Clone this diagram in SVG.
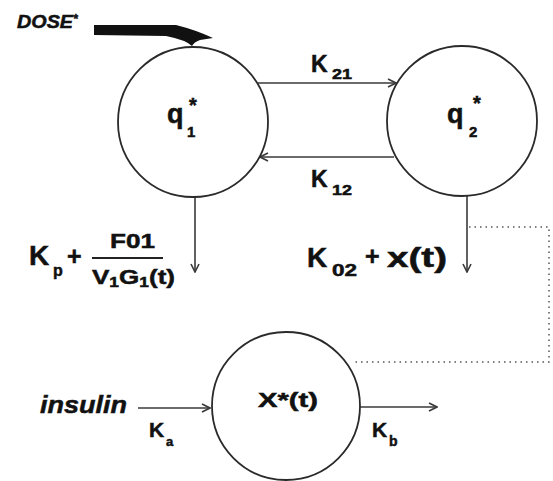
<svg xmlns="http://www.w3.org/2000/svg" width="553" height="481" viewBox="0 0 553 481">
<style>
.c{fill:#fff;stroke:#2a2a2a;stroke-width:1.8}
.l{fill:none;stroke:#3a3a3a;stroke-width:1.6}
.d{fill:none;stroke:#555;stroke-width:1.5;stroke-dasharray:1.5 4}
.t{font-family:"Liberation Sans",Arial,sans-serif;font-weight:bold;fill:#111;stroke:#111;stroke-width:0.5}
.i{font-style:italic}
</style>
<defs>
<marker id="ah" viewBox="0 0 10 10" refX="9" refY="5" markerWidth="10" markerHeight="10" markerUnits="userSpaceOnUse" orient="auto">
<path d="M1,1 L9,5 L1,9" fill="none" stroke="#3a3a3a" stroke-width="1.6"/>
</marker>
</defs>
<rect width="553" height="481" fill="#fff"/>
<g id="connectors">
<path class="l" d="M258,83 H396" marker-end="url(#ah)"/>
<path class="l" d="M394,157 H260" marker-end="url(#ah)"/>
<path class="l" d="M195,197 V272" marker-end="url(#ah)"/>
<path class="l" d="M467,196 V272" marker-end="url(#ah)"/>
<path class="l" d="M138,408 H210" marker-end="url(#ah)"/>
<path class="l" d="M360,407 H437" marker-end="url(#ah)"/>
<path class="d" d="M469,227 H549 V362 H353"/>
<path d="M94,25 H176 Q196,30 213,38 L200,40 Q194,42 192,46 Q186,40 166,36 L94,35 Z" fill="#111"/>
</g>
<g id="dose">
<text class="t i" x="17" y="28" font-size="18"><tspan textLength="56" lengthAdjust="spacingAndGlyphs">DOSE</tspan><tspan font-size="12" dy="-5">*</tspan></text>
</g>
<g id="q1">
<circle class="c" cx="193" cy="122" r="75"/>
<text class="t" x="167" y="123" font-size="27">q</text>
<text class="t" x="187" y="137" font-size="15">1</text>
<text class="t" x="189" y="112" font-size="20">*</text>
</g>
<g id="q2">
<circle class="c" cx="462" cy="121" r="75"/>
<text class="t" x="447" y="123" font-size="27">q</text>
<text class="t" x="469" y="137" font-size="15">2</text>
<text class="t" x="473" y="110" font-size="20">*</text>
</g>
<g id="x">
<circle class="c" cx="286" cy="406" r="74"/>
<text class="t" x="258" y="407" font-size="21" textLength="60" lengthAdjust="spacingAndGlyphs">X*(t)</text>
</g>
<g id="labels">
<text class="t" x="311" y="72" font-size="23">K</text>
<text class="t" x="332" y="79" font-size="15" textLength="20" lengthAdjust="spacingAndGlyphs">21</text>
<text class="t" x="311" y="187" font-size="23">K</text>
<text class="t" x="332" y="195" font-size="15" textLength="20" lengthAdjust="spacingAndGlyphs">12</text>
<text class="t" x="29" y="265" font-size="28">K</text>
<text class="t" x="53" y="276" font-size="16">p</text>
<text class="t" x="67" y="265" font-size="25">+</text>
<text class="t" x="110" y="248" font-size="21" textLength="45" lengthAdjust="spacingAndGlyphs">F01</text>
<line x1="92" y1="258" x2="163" y2="258" stroke="#222" stroke-width="2"/>
<text class="t" x="92" y="284" font-size="21" textLength="83" lengthAdjust="spacingAndGlyphs">V<tspan font-size="14" dy="3">1</tspan><tspan dy="-3">G</tspan><tspan font-size="14" dy="3">1</tspan><tspan dy="-3">(t)</tspan></text>
<text class="t" x="307" y="267" font-size="28">K</text>
<text class="t" x="332" y="276" font-size="16" textLength="25" lengthAdjust="spacingAndGlyphs">02</text>
<text class="t" x="365" y="265" font-size="25">+</text>
<text class="t" x="387" y="267" font-size="27" textLength="60" lengthAdjust="spacingAndGlyphs">x(t)</text>
<text class="t i" x="40" y="413" font-size="24" textLength="87" lengthAdjust="spacingAndGlyphs">insulin</text>
<text class="t" x="149" y="437" font-size="21">K</text>
<text class="t" x="166" y="446" font-size="13">a</text>
<text class="t" x="372" y="437" font-size="21">K</text>
<text class="t" x="389" y="446" font-size="14">b</text>
</g>
</svg>
